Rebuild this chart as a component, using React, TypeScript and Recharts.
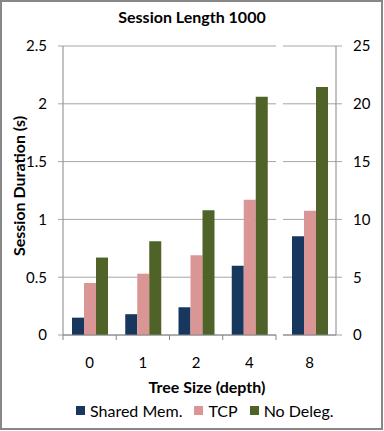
import { BarChart, Bar, XAxis, YAxis, CartesianGrid, Legend } from 'recharts';

// tree depth 0..4 (seconds, left axis)
const depths = ['0', '1', '2', '4'];
const sharedMem = [0.15, 0.18, 0.24, 0.6];
const tcp = [0.45, 0.53, 0.69, 1.17];
const noDeleg = [0.67, 0.81, 1.08, 2.06];

// tree depth 8 (seconds, right axis)
const bigDepths = ['8'];
const sharedMemBig = [8.55];
const tcpBig = [10.75];
const noDelegBig = [21.45];

const leftTicks = [0, 0.5, 1, 1.5, 2, 2.5];
const rightTicks = [0, 5, 10, 15, 20, 25];

const series = [
  { key: 'shared', name: 'Shared Mem.', color: '#17375E' },
  { key: 'tcp', name: 'TCP', color: '#D99694' },
  { key: 'noDeleg', name: 'No Deleg.', color: '#4F6228' },
];

const leftData = depths.map((depth, i) => ({
  depth,
  shared: sharedMem[i],
  tcp: tcp[i],
  noDeleg: noDeleg[i],
}));

const rightData = bigDepths.map((depth, i) => ({
  depth,
  shared: sharedMemBig[i],
  tcp: tcpBig[i],
  noDeleg: noDelegBig[i],
}));

const FONT = 'Lato, "Open Sans", sans-serif';
const FS = 15;
const FS_TITLE = 16;
const AXIS = '#868686';
const GRID = '#a6a6a6';

const LEFT_W = 290;
const LEFT_PLOT_W = LEFT_W - 63 - 14;
const RIGHT_W = 114;
const RIGHT_PLOT_W = RIGHT_W - 13 - 48;

function DepthTick(props: any) {
  const { x, y, payload, index, visibleTicksCount, band, marks } = props;
  const half = band / 2;
  return (
    <g>
      {marks && <line x1={x - half} x2={x - half} y1={y} y2={y + 5} stroke={AXIS} />}
      {marks && index === visibleTicksCount - 1 && (
        <line x1={x + half} x2={x + half} y1={y} y2={y + 5} stroke={AXIS} />
      )}
      <text x={x} y={y + 33} textAnchor="middle" fontSize={FS} fontFamily={FONT} fill="#000">
        {payload.value}
      </text>
    </g>
  );
}

function LegendBox() {
  return (
    <div style={{ display: 'flex', alignItems: 'center', fontFamily: FONT, fontSize: FS_TITLE, color: '#000', whiteSpace: 'nowrap' }}>
      {series.map((s) => (
        <span key={s.key} style={{ display: 'flex', alignItems: 'center', marginRight: 12 }}>
          <span style={{ width: 9, height: 9, background: s.color, marginRight: 5, display: 'inline-block' }} />
          {s.name}
        </span>
      ))}
    </div>
  );
}

export default function App() {
  return (
    <div style={{ position: 'absolute', left: 0, top: 0, width: 384, height: 431, background: '#fff', fontFamily: FONT }}>
      <div style={{ position: 'absolute', left: 0, top: 0, width: 383, height: 430, border: '2px solid #878787', boxSizing: 'border-box' }} />

      <div style={{ position: 'absolute', left: 0, top: 0 }}>
        <BarChart
          width={LEFT_W}
          height={431}
          data={leftData}
          margin={{ top: 46, right: 14, bottom: 66, left: 0 }}
          barCategoryGap={9}
          barGap={0}
        >
          <CartesianGrid vertical={false} stroke={GRID} />
          <XAxis
            dataKey="depth"
            height={30}
            tickSize={0}
            tickMargin={0}
            axisLine={{ stroke: AXIS }}
            tick={(p: any) => <DepthTick {...p} band={LEFT_PLOT_W / depths.length} marks />}
            interval={0}
          />
          <YAxis
            width={63}
            domain={[0, 2.5]}
            ticks={leftTicks}
            tickSize={5}
            tickMargin={11}
            axisLine={{ stroke: AXIS }}
            tickLine={{ stroke: GRID }}
            tick={{ fill: '#000', fontSize: FS, fontFamily: FONT }}
          />
          <Legend
            verticalAlign="middle"
            align="center"
            content={() => <LegendBox />}
            wrapperStyle={{ position: 'absolute', left: 76, top: 401, width: 300 }}
          />
          {series.map((s) => (
            <Bar key={s.key} dataKey={s.key} name={s.name} fill={s.color} isAnimationActive={false} />
          ))}
        </BarChart>
      </div>

      <div style={{ position: 'absolute', left: 270, top: 0 }}>
        <BarChart
          width={RIGHT_W}
          height={431}
          data={rightData}
          margin={{ top: 46, right: 0, bottom: 66, left: 13 }}
          barCategoryGap={9}
          barGap={0}
        >
          <CartesianGrid vertical={false} stroke={GRID} />
          <XAxis
            dataKey="depth"
            height={30}
            tickSize={0}
            tickMargin={0}
            axisLine={{ stroke: AXIS }}
            tick={(p: any) => <DepthTick {...p} band={RIGHT_PLOT_W} marks={false} />}
          />
          <YAxis
            orientation="right"
            width={48}
            domain={[0, 25]}
            ticks={rightTicks}
            tickSize={6}
            tickMargin={11}
            axisLine={{ stroke: AXIS }}
            tickLine={{ stroke: GRID }}
            tick={{ fill: '#000', fontSize: FS, fontFamily: FONT, textAnchor: 'start' }}
          />
          {series.map((s) => (
            <Bar key={s.key} dataKey={s.key} name={s.name} fill={s.color} isAnimationActive={false} />
          ))}
        </BarChart>
      </div>

      <svg width={384} height={431} style={{ position: 'absolute', left: 0, top: 0, pointerEvents: 'none' }}>
        <text x={192} y={23} textAnchor="middle" fontSize={FS_TITLE} fontWeight="bold" fontFamily={FONT}>
          Session Length 1000
        </text>
        <text
          x={25}
          y={186}
          textAnchor="middle"
          fontSize={FS_TITLE}
          fontWeight="bold"
          fontFamily={FONT}
          transform="rotate(-90 25 186)"
        >
          Session Duration (s)
        </text>
        <text x={207} y={393} textAnchor="middle" fontSize={FS_TITLE} fontWeight="bold" fontFamily={FONT}>
          Tree Size (depth)
        </text>
      </svg>
    </div>
  );
}
